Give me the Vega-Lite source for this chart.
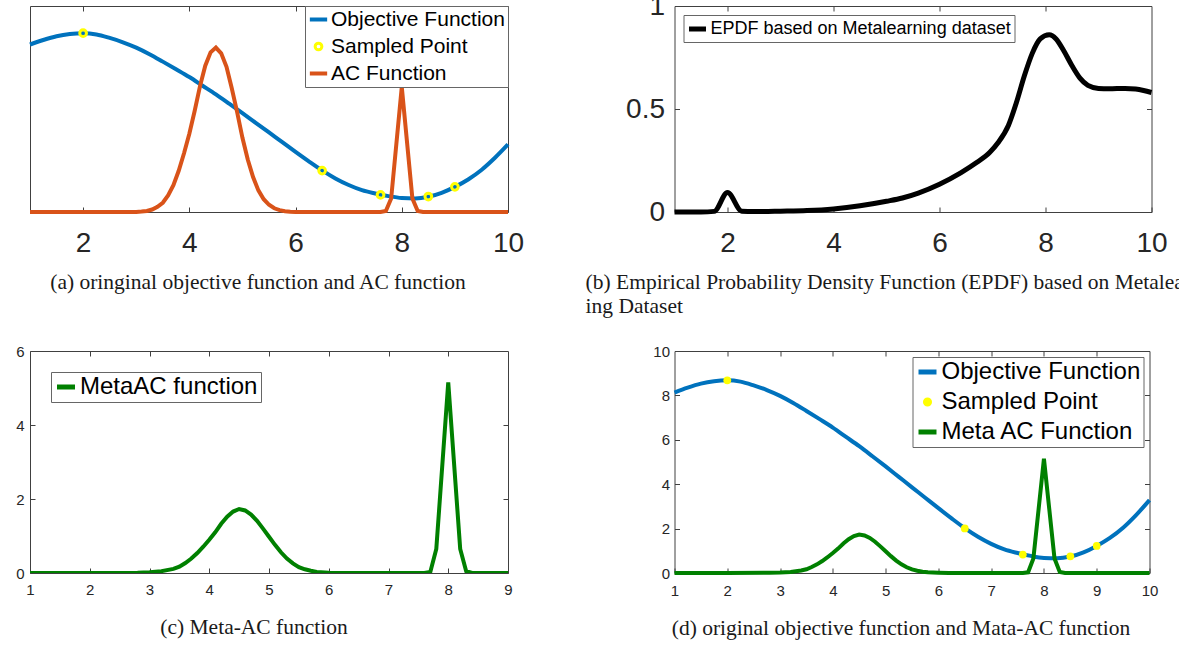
{
  "$schema": "https://vega.github.io/schema/vega-lite/v6.json",
  "background": "white",
  "padding": {"left": 15, "top": -9, "right": -20, "bottom": 0},
  "config": {
    "view": {"stroke": "#404040", "strokeWidth": 1},
    "axis": {"domain": false, "grid": false, "ticks": true, "tickSize": -5, "tickColor": "#404040", "tickWidth": 1, "labelFont": "Liberation Sans", "labelColor": "#262626", "labelFlush": false, "labelOverlap": false, "labelBound": false},
    "title": {"font": "Liberation Serif", "fontSize": 21.5, "fontWeight": "normal", "color": "#1a1a1a", "orient": "bottom"}
  },
  "datasets": {
    "objective": [
      {"x": 1, "y": 8.13}, {"x": 1.25, "y": 8.35}, {"x": 1.5, "y": 8.53}, {"x": 1.75, "y": 8.64}, {"x": 2, "y": 8.68},
      {"x": 2.25, "y": 8.62}, {"x": 2.5, "y": 8.45}, {"x": 2.75, "y": 8.24}, {"x": 3, "y": 7.98}, {"x": 3.25, "y": 7.66},
      {"x": 3.5, "y": 7.3}, {"x": 3.75, "y": 6.93}, {"x": 4, "y": 6.55}, {"x": 4.25, "y": 6.13}, {"x": 4.5, "y": 5.71},
      {"x": 4.75, "y": 5.26}, {"x": 5, "y": 4.8}, {"x": 5.25, "y": 4.33}, {"x": 5.5, "y": 3.86}, {"x": 5.75, "y": 3.39},
      {"x": 6, "y": 2.92}, {"x": 6.25, "y": 2.46}, {"x": 6.5, "y": 2.02}, {"x": 6.75, "y": 1.63}, {"x": 7, "y": 1.31},
      {"x": 7.25, "y": 1.06}, {"x": 7.5, "y": 0.9}, {"x": 7.75, "y": 0.77}, {"x": 8, "y": 0.68}, {"x": 8.25, "y": 0.66},
      {"x": 8.5, "y": 0.74}, {"x": 8.75, "y": 0.93}, {"x": 9, "y": 1.22}, {"x": 9.25, "y": 1.58}, {"x": 9.5, "y": 2.04},
      {"x": 9.75, "y": 2.62}, {"x": 10, "y": 3.28}
    ],
    "samples": [
      {"x": 2, "y": 8.68}, {"x": 6.5, "y": 2.01}, {"x": 7.6, "y": 0.83}, {"x": 8.5, "y": 0.75}, {"x": 9, "y": 1.22}
    ],
    "ac": [
      {"x": 1, "y": 0}, {"x": 2, "y": 0}, {"x": 3, "y": 0}, {"x": 3.1, "y": 0.02}, {"x": 3.2, "y": 0.05},
      {"x": 3.3, "y": 0.12}, {"x": 3.4, "y": 0.25}, {"x": 3.5, "y": 0.45}, {"x": 3.6, "y": 0.8}, {"x": 3.7, "y": 1.3},
      {"x": 3.8, "y": 2.0}, {"x": 3.9, "y": 2.85}, {"x": 4.0, "y": 3.8}, {"x": 4.1, "y": 4.9}, {"x": 4.2, "y": 6.1},
      {"x": 4.3, "y": 7.1}, {"x": 4.4, "y": 7.75}, {"x": 4.5, "y": 7.98}, {"x": 4.6, "y": 7.7}, {"x": 4.7, "y": 7.05},
      {"x": 4.8, "y": 6.0}, {"x": 4.9, "y": 4.85}, {"x": 5.0, "y": 3.6}, {"x": 5.1, "y": 2.55}, {"x": 5.2, "y": 1.7},
      {"x": 5.3, "y": 1.05}, {"x": 5.4, "y": 0.62}, {"x": 5.5, "y": 0.35}, {"x": 5.6, "y": 0.18}, {"x": 5.7, "y": 0.09},
      {"x": 5.8, "y": 0.04}, {"x": 5.9, "y": 0.01}, {"x": 6.0, "y": 0}, {"x": 7.6, "y": 0}, {"x": 7.7, "y": 0.05},
      {"x": 7.8, "y": 0.65}, {"x": 8.0, "y": 6.07}, {"x": 8.2, "y": 0.65}, {"x": 8.3, "y": 0.05}, {"x": 8.4, "y": 0},
      {"x": 10, "y": 0}
    ],
    "metaac": [
      {"x": 1, "y": 0}, {"x": 2, "y": 0}, {"x": 2.8, "y": 0.01}, {"x": 3.0, "y": 0.02}, {"x": 3.2, "y": 0.05},
      {"x": 3.4, "y": 0.11}, {"x": 3.5, "y": 0.17}, {"x": 3.6, "y": 0.27}, {"x": 3.7, "y": 0.39}, {"x": 3.8, "y": 0.54},
      {"x": 3.9, "y": 0.71}, {"x": 4.0, "y": 0.9}, {"x": 4.1, "y": 1.1}, {"x": 4.2, "y": 1.33}, {"x": 4.3, "y": 1.52},
      {"x": 4.4, "y": 1.66}, {"x": 4.5, "y": 1.73}, {"x": 4.6, "y": 1.69}, {"x": 4.7, "y": 1.58}, {"x": 4.8, "y": 1.41},
      {"x": 4.9, "y": 1.2}, {"x": 5.0, "y": 0.98}, {"x": 5.1, "y": 0.76}, {"x": 5.2, "y": 0.56}, {"x": 5.3, "y": 0.39},
      {"x": 5.4, "y": 0.26}, {"x": 5.5, "y": 0.16}, {"x": 5.6, "y": 0.1}, {"x": 5.7, "y": 0.06}, {"x": 5.8, "y": 0.03},
      {"x": 6.0, "y": 0.01}, {"x": 6.2, "y": 0}, {"x": 7.6, "y": 0}, {"x": 7.7, "y": 0.03}, {"x": 7.8, "y": 0.65},
      {"x": 8.0, "y": 5.15}, {"x": 8.2, "y": 0.65}, {"x": 8.3, "y": 0.05}, {"x": 8.4, "y": 0}, {"x": 10, "y": 0}
    ],
    "epdf": [
      {"x": 1, "y": 0}, {"x": 1.5, "y": 0}, {"x": 1.75, "y": 0.003}, {"x": 2.0, "y": 0.095}, {"x": 2.27, "y": 0.004},
      {"x": 2.5, "y": 0.002}, {"x": 3.0, "y": 0.004}, {"x": 3.5, "y": 0.007}, {"x": 4.0, "y": 0.015}, {"x": 4.5, "y": 0.03},
      {"x": 5.0, "y": 0.052}, {"x": 5.3, "y": 0.068}, {"x": 5.6, "y": 0.092}, {"x": 6.0, "y": 0.135}, {"x": 6.4, "y": 0.19},
      {"x": 6.7, "y": 0.24}, {"x": 6.95, "y": 0.29}, {"x": 7.1, "y": 0.335}, {"x": 7.3, "y": 0.42}, {"x": 7.45, "y": 0.53},
      {"x": 7.6, "y": 0.66}, {"x": 7.75, "y": 0.77}, {"x": 7.9, "y": 0.84}, {"x": 8.07, "y": 0.86}, {"x": 8.2, "y": 0.84},
      {"x": 8.35, "y": 0.78}, {"x": 8.5, "y": 0.71}, {"x": 8.65, "y": 0.65}, {"x": 8.8, "y": 0.615}, {"x": 9.0, "y": 0.6},
      {"x": 9.2, "y": 0.598}, {"x": 9.5, "y": 0.6}, {"x": 9.7, "y": 0.597}, {"x": 9.85, "y": 0.59}, {"x": 10, "y": 0.58}
    ]
  },
  "bounds": "flush",
  "columns": 2,
  "spacing": {"row": 139, "column": 166.5},
  "resolve": {"scale": {"color": "independent"}, "legend": {"color": "independent"}},
  "concat": [
    {
      "width": 478,
      "height": 206,
      "title": {"text": "(a) oringinal objective function and AC function", "orient": "bottom", "dx": -11, "offset": 15},
      "resolve": {"axis": {"x": "independent"}},
      "layer": [
        {
          "data": {"name": "objective"},
          "mark": {"type": "line", "interpolate": "monotone", "strokeWidth": 4},
          "encoding": {
            "x": {"field": "x", "type": "quantitative", "title": null, "scale": {"domain": [1, 10], "nice": false, "zero": false},
                  "axis": {"orient": "bottom", "values": [2, 4, 6, 8, 10], "labelFontSize": 28, "labelPadding": 22}},
            "y": {"field": "y", "type": "quantitative", "title": null, "scale": {"domain": [0, 10], "nice": false}, "axis": null},
            "color": {
              "datum": "Objective Function",
              "scale": {"domain": ["Objective Function", "Sampled Point", "AC Function"], "range": ["#0072BD", "#FFFF00", "#D95319"]},
              "legend": {
                "title": null, "orient": "top-right", "offset": 0,
                "fillColor": "white", "strokeColor": "#666666", "padding": 3,
                "labelFont": "Liberation Sans", "labelFontSize": 21, "labelColor": "black", "labelLimit": 400,
                "labelOffset": 2, "rowPadding": 5, "symbolSize": 300, "symbolType": "stroke", "symbolStrokeWidth": 4,
                "encode": {"symbols": {"update": {
                  "shape": {"signal": "datum.value === 'Sampled Point' ? 'circle' : 'stroke'"},
                  "size": {"signal": "datum.value === 'Sampled Point' ? 45 : 300"},
                  "strokeWidth": {"signal": "datum.value === 'Sampled Point' ? 3 : 4"},
                  "fill": {"value": "transparent"},
                  "stroke": {"signal": "datum.value === 'Sampled Point' ? '#FFFF00' : datum.value === 'AC Function' ? '#D95319' : '#0072BD'"}
                }}}
              }
            }
          }
        },
        {
          "data": {"name": "ac"},
          "mark": {"type": "line", "strokeWidth": 4},
          "encoding": {
            "x": {"field": "x", "type": "quantitative", "axis": null},
            "y": {"field": "y", "type": "quantitative", "axis": null},
            "color": {"datum": "AC Function"}
          }
        },
        {
          "data": {"name": "samples"},
          "mark": {"type": "point", "filled": false, "strokeWidth": 3, "size": 45, "opacity": 1},
          "encoding": {
            "x": {"field": "x", "type": "quantitative", "title": null, "axis": {"orient": "top", "labels": false, "values": [2, 4, 6, 8]}},
            "y": {"field": "y", "type": "quantitative", "axis": null},
            "color": {"datum": "Sampled Point"}
          }
        }
      ]
    },
    {
      "width": 477,
      "height": 206,
      "title": {"text": ["(b) Empirical Probability Density Function (EPDF) based on Metalearn-", "ing Dataset"], "orient": "bottom", "anchor": "start", "dx": -40, "offset": 15, "lineHeight": 24},
      "resolve": {"axis": {"x": "independent", "y": "independent"}},
      "layer": [
        {
          "data": {"name": "epdf"},
          "mark": {"type": "line", "interpolate": "monotone", "strokeWidth": 5},
          "encoding": {
            "x": {"field": "x", "type": "quantitative", "title": null, "scale": {"domain": [1, 10], "nice": false, "zero": false},
                  "axis": {"orient": "bottom", "values": [2, 4, 6, 8, 10], "labelFontSize": 28, "labelPadding": 22}},
            "y": {"field": "y", "type": "quantitative", "title": null, "scale": {"domain": [0, 1], "nice": false},
                  "axis": {"orient": "left", "values": [0, 0.5, 1], "format": "~g", "labelFontSize": 28, "labelPadding": 15}},
            "color": {
              "datum": "EPDF based on Metalearning dataset",
              "scale": {"range": ["black"]},
              "legend": {
                "title": null, "orient": "top-left", "offset": 9,
                "fillColor": "white", "strokeColor": "#666666", "padding": 3,
                "labelFont": "Liberation Sans", "labelFontSize": 18, "labelColor": "black", "labelLimit": 500,
                "labelOffset": 2, "symbolSize": 289, "symbolType": "stroke", "symbolStrokeWidth": 5
              }
            }
          }
        },
        {
          "data": {"name": "epdf"},
          "mark": {"type": "line", "opacity": 0},
          "encoding": {
            "x": {"field": "x", "type": "quantitative", "title": null, "axis": {"orient": "top", "labels": false, "values": [2, 4, 6, 8]}},
            "y": {"field": "y", "type": "quantitative", "title": null, "axis": {"orient": "right", "labels": false, "values": [0.5]}}
          }
        }
      ]
    },
    {
      "width": 478,
      "height": 222,
      "title": {"text": "(c) Meta-AC function", "orient": "bottom", "dx": -15, "offset": 20},
      "resolve": {"axis": {"x": "independent", "y": "independent"}},
      "layer": [
        {
          "data": {"name": "metaac"},
          "mark": {"type": "line", "strokeWidth": 4, "clip": true},
          "encoding": {
            "x": {"field": "x", "type": "quantitative", "title": null, "scale": {"domain": [1, 9], "nice": false, "zero": false},
                  "axis": {"orient": "bottom", "values": [1, 2, 3, 4, 5, 6, 7, 8, 9], "labelFontSize": 15, "labelPadding": 14}},
            "y": {"field": "y", "type": "quantitative", "title": null, "scale": {"domain": [0, 6], "nice": false},
                  "axis": {"orient": "left", "values": [0, 2, 4, 6], "labelFontSize": 15, "labelPadding": 11}},
            "color": {
              "datum": "MetaAC function",
              "scale": {"range": ["#008000"]},
              "legend": {
                "title": null, "orient": "top-left", "offset": 21,
                "fillColor": "white", "strokeColor": "#666666", "padding": 3,
                "labelFont": "Liberation Sans", "labelFontSize": 24, "labelColor": "black", "labelLimit": 500,
                "labelOffset": 2, "symbolSize": 324, "symbolType": "stroke", "symbolStrokeWidth": 5
              }
            }
          }
        },
        {
          "data": {"name": "metaac"},
          "mark": {"type": "line", "opacity": 0, "clip": true},
          "encoding": {
            "x": {"field": "x", "type": "quantitative", "title": null, "axis": {"orient": "top", "labels": false, "values": [2, 3, 4, 5, 6, 7, 8]}},
            "y": {"field": "y", "type": "quantitative", "title": null, "axis": {"orient": "right", "labels": false, "values": [2, 4]}}
          }
        }
      ]
    },
    {
      "width": 475,
      "height": 222,
      "title": {"text": "(d) original objective function and Mata-AC function", "orient": "bottom", "dx": -11, "offset": 20},
      "resolve": {"axis": {"x": "independent", "y": "independent"}},
      "layer": [
        {
          "data": {"name": "objective"},
          "mark": {"type": "line", "interpolate": "monotone", "strokeWidth": 4},
          "encoding": {
            "x": {"field": "x", "type": "quantitative", "title": null, "scale": {"domain": [1, 10], "nice": false, "zero": false},
                  "axis": {"orient": "bottom", "values": [1, 2, 3, 4, 5, 6, 7, 8, 9, 10], "labelFontSize": 15, "labelPadding": 15}},
            "y": {"field": "y", "type": "quantitative", "title": null, "scale": {"domain": [0, 10], "nice": false},
                  "axis": {"orient": "left", "values": [0, 2, 4, 6, 8, 10], "labelFontSize": 15, "labelPadding": 10}},
            "color": {
              "datum": "Objective Function",
              "scale": {"domain": ["Objective Function", "Sampled Point", "Meta AC Function"], "range": ["#0072BD", "#FFFF00", "#008000"]},
              "legend": {
                "title": null, "orient": "top-right", "offset": 6,
                "fillColor": "white", "strokeColor": "#666666", "padding": 3,
                "labelFont": "Liberation Sans", "labelFontSize": 24, "labelColor": "black", "labelLimit": 500,
                "labelOffset": 2, "rowPadding": 6, "symbolSize": 324, "symbolType": "stroke", "symbolStrokeWidth": 5,
                "encode": {"symbols": {"update": {
                  "shape": {"signal": "datum.value === 'Sampled Point' ? 'circle' : 'stroke'"},
                  "size": {"signal": "datum.value === 'Sampled Point' ? 50 : 324"},
                  "strokeWidth": {"signal": "datum.value === 'Sampled Point' ? 2 : 5"},
                  "fill": {"signal": "datum.value === 'Sampled Point' ? '#FFFF00' : 'transparent'"},
                  "stroke": {"signal": "datum.value === 'Sampled Point' ? '#FFFF00' : datum.value === 'Meta AC Function' ? '#008000' : '#0072BD'"}
                }}}
              }
            }
          }
        },
        {
          "data": {"name": "metaac"},
          "mark": {"type": "line", "strokeWidth": 4},
          "encoding": {
            "x": {"field": "x", "type": "quantitative", "axis": null},
            "y": {"field": "y", "type": "quantitative", "axis": null},
            "color": {"datum": "Meta AC Function"}
          }
        },
        {
          "data": {"name": "samples"},
          "mark": {"type": "point", "filled": true, "size": 60, "opacity": 1},
          "encoding": {
            "x": {"field": "x", "type": "quantitative", "title": null, "axis": {"orient": "top", "labels": false, "values": [2, 3, 4, 5, 6, 7, 8, 9]}},
            "y": {"field": "y", "type": "quantitative", "title": null, "axis": {"orient": "right", "labels": false, "values": [2, 4, 6, 8]}},
            "color": {"datum": "Sampled Point"}
          }
        }
      ]
    }
  ]
}
